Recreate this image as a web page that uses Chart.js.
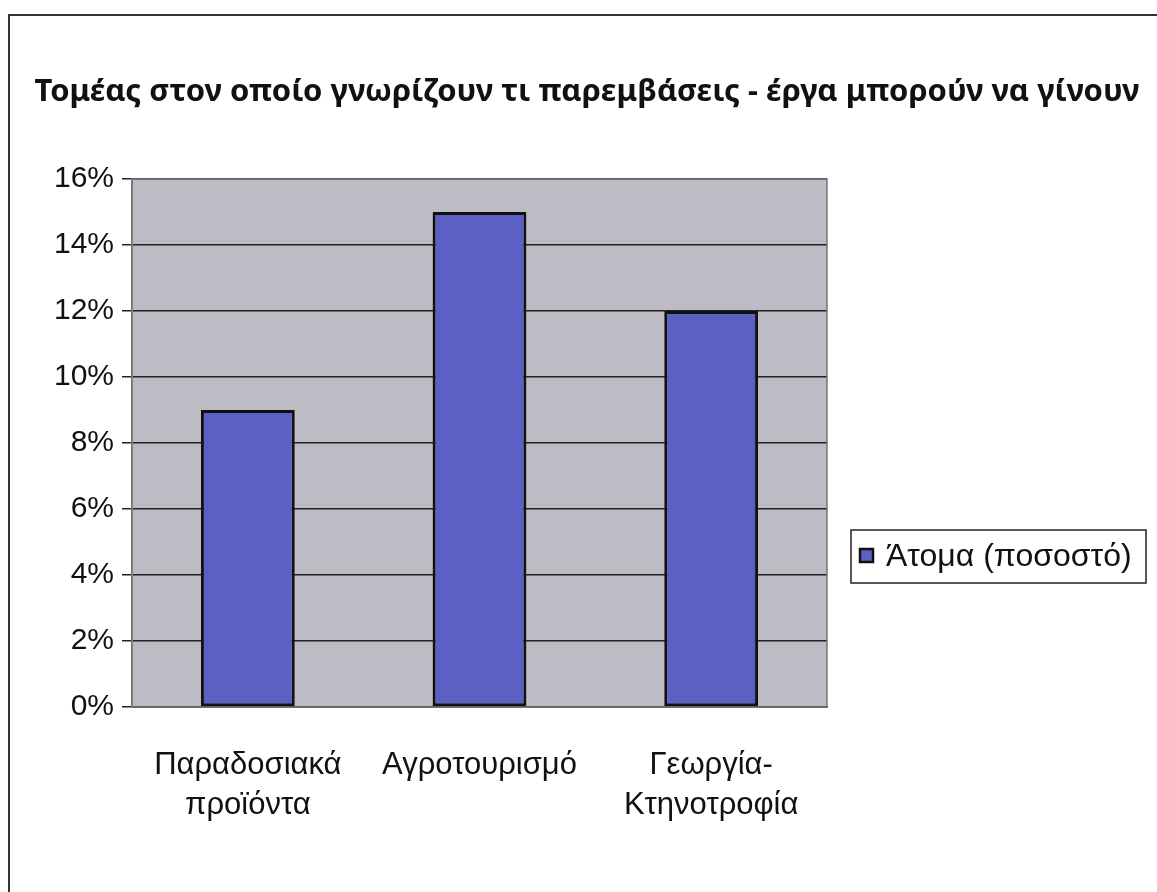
<!DOCTYPE html>
<html lang="el">
<head>
  <meta charset="UTF-8">
  <title>Τομέας παρεμβάσεων</title>
  <script src="https://cdn.jsdelivr.net/npm/chart.js"></script>
  <style>
    body { margin: 0; padding: 0; background: #fff; }
    #wrap { width: 1157px; height: 892px; }
  </style>
</head>
<body>
  <div id="wrap"><canvas id="sectorChart"></canvas></div>
  <script>
    const titleText = 'Τομέας στον οποίο γνωρίζουν τι παρεμβάσεις - έργα μπορούν να γίνουν';
    const categories = [['Παραδοσιακά', 'προϊόντα'], 'Αγροτουρισμό', ['Γεωργία-', 'Κτηνοτροφία']];
    const seriesName = 'Άτομα (ποσοστό)';
    const values = [9, 15, 12];
    const yTicks = [0, 2, 4, 6, 8, 10, 12, 14, 16];

    const barColor = '#5b60c4';
    const plotGray = '#bdbcc4';
    const sans = '"Liberation Sans", Arial, sans-serif';

    // frame, title, plot background and the boxed legend
    const decor = {
      id: 'decor',
      beforeDraw(chart) {
        const c = chart.ctx, a = chart.chartArea;
        c.save();
        c.fillStyle = '#fff';
        c.fillRect(0, 0, chart.width, chart.height);
        c.strokeStyle = '#333';
        c.lineWidth = 2;
        c.beginPath();
        c.moveTo(9, chart.height);
        c.lineTo(9, 15);
        c.lineTo(chart.width, 15);
        c.stroke();
        c.fillStyle = plotGray;
        c.fillRect(a.left, a.top, a.right - a.left, a.bottom - a.top);
        // title, squeezed to the width it has in the picture
        c.fillStyle = '#111';
        c.font = 'bold 30px "Noto Sans", "DejaVu Sans", sans-serif';
        c.textBaseline = 'middle';
        c.textAlign = 'center';
        const w = c.measureText(titleText).width;
        c.translate(587, 92);
        c.scale(1105 / w, 1);
        c.fillText(titleText, 0, 0);
        c.restore();
      },
      afterDraw(chart) {
        const c = chart.ctx, a = chart.chartArea;
        c.save();
        c.strokeStyle = '#777';
        c.lineWidth = 1.5;
        c.strokeRect(a.left, a.top, a.right - a.left, a.bottom - a.top);
        // legend
        c.strokeStyle = '#222';
        c.lineWidth = 1.5;
        c.strokeRect(851, 530, 295, 53);
        c.fillStyle = barColor;
        c.fillRect(860, 549, 13, 13);
        c.strokeStyle = '#111';
        c.lineWidth = 2.5;
        c.strokeRect(860, 549, 13, 13);
        c.fillStyle = '#111';
        c.font = '32px ' + sans;
        c.textBaseline = 'middle';
        c.fillText(chart.data.datasets[0].label, 886, 557);
        c.restore();
      }
    };

    const ctx = document.getElementById('sectorChart').getContext('2d');
    const sectorChart = new Chart(ctx, {
      type: 'bar',
      data: {
        labels: categories,
        datasets: [{
          label: seriesName,
          data: values,
          backgroundColor: barColor,
          borderColor: '#111',
          borderWidth: 3,
          borderSkipped: false,
          barPercentage: 0.405,
          categoryPercentage: 1
        }]
      },
      options: {
        responsive: true,
        maintainAspectRatio: false,
        animation: false,
        layout: { padding: { left: 0, right: 330, top: 179, bottom: 0 } },
        plugins: {
          legend: { display: false },
          tooltip: { enabled: false },
          title: { display: false }
        },
        scales: {
          x: {
            grid: { display: false, drawTicks: false },
            border: { display: true, color: '#222', width: 1.5 },
            ticks: {
              color: '#111',
              padding: 38,
              maxRotation: 0,
              font: { family: sans, size: 31, lineHeight: 1.3 }
            },
            afterFit(s) { s.height = 185; }
          },
          y: {
            min: 0,
            max: 16,
            afterBuildTicks(s) { s.ticks = yTicks.map(v => ({ value: v })); },
            grid: { color: '#222', lineWidth: 1.5, tickLength: 10, tickColor: '#222' },
            border: { display: true, color: '#777', width: 1.5 },
            ticks: {
              color: '#111',
              padding: 8,
              font: { family: sans, size: 30 },
              callback: v => v + '%'
            },
            afterFit(s) { s.width = 132; }
          }
        }
      },
      plugins: [decor]
    });
  </script>
</body>
</html>
